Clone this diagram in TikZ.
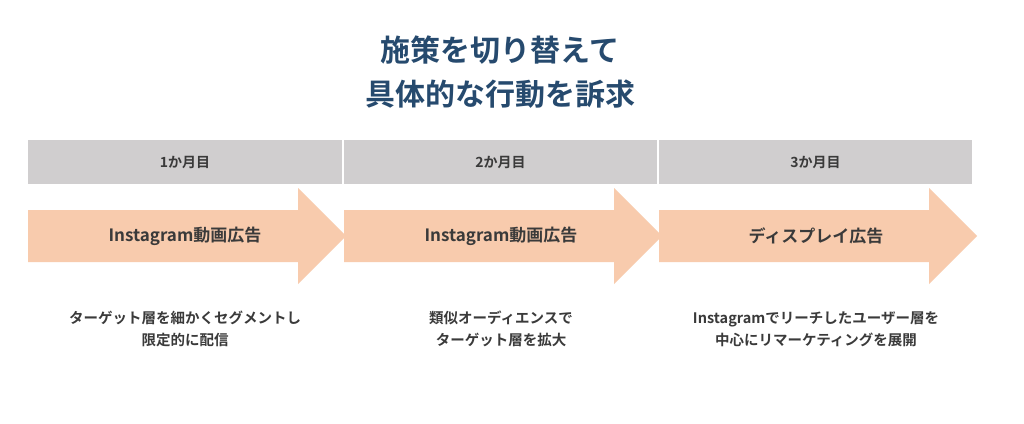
\documentclass[tikz,border=0pt]{standalone}
\usepackage{fontspec}
\setmainfont{Noto Sans CJK JP}[BoldFont={Noto Sans CJK JP Bold}]
\definecolor{titleblue}{HTML}{264A6E}
\definecolor{hdr}{HTML}{D0CECF}
\definecolor{peach}{HTML}{F8CBAD}
\definecolor{txt}{HTML}{3A3A3A}
\begin{document}
\begin{tikzpicture}[x=1pt,y=-1pt,
  hdrtxt/.style={font=\bfseries\fontsize{14}{16}\selectfont,text=txt},
  arrtxt/.style={font=\bfseries\fontsize{17}{20}\selectfont,text=txt},
  desc/.style={font=\bfseries\fontsize{14.5}{22}\selectfont,text=txt,align=center}]
\useasboundingbox[fill=white] (0,0) rectangle (1024,423);
\node[font=\bfseries\fontsize{30}{44}\selectfont,text=titleblue,align=center] (title) at (500,72) {施策を切り替えて\\具体的な行動を訴求};
\foreach \i/\a/\b/\lab/\at/\dt in {1/28/342/1か月目/Instagram動画広告/{ターゲット層を細かくセグメントし\\限定的に配信},
  2/344/657/2か月目/Instagram動画広告/{類似オーディエンスで\\ターゲット層を拡大},
  3/659/972/3か月目/ディスプレイ広告/{Instagramでリーチしたユーザー層を\\中心にリマーケティングを展開}}{
  \fill[hdr] (\a,140) rectangle (\b,184);
  \node[hdrtxt] (h\i) at ({(\a+\b)/2},162) {\lab};
  \fill[peach] (\a,210) -- ({\a+270},210) -- ({\a+270},188) -- ({\a+318},236) -- ({\a+270},284) -- ({\a+270},262) -- (\a,262) -- cycle;
  \node[arrtxt] (a\i) at ({\a+157},236) {\at};
  \node[desc] (d\i) at ({\a+157},329) {\dt};
}
\end{tikzpicture}
\end{document}
